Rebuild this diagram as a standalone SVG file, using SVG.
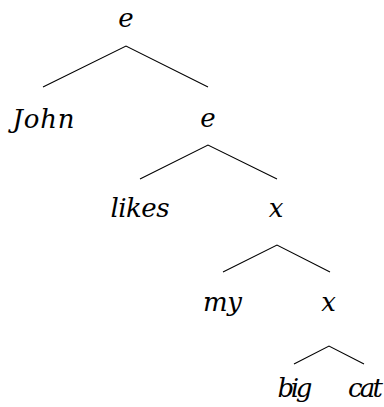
<svg xmlns="http://www.w3.org/2000/svg" width="384" height="407" viewBox="0 0 384 407">
<style>
text{font-family:"DejaVu Serif","Liberation Serif","Times New Roman",serif;font-style:italic;font-size:26px;fill:#000;text-anchor:middle}
.edge{stroke:#000;stroke-width:1.1;fill:none}
</style>
<rect width="384" height="407" fill="#fff"/>
<g id="connectors">
<path class="edge" d="M43,87 L126,46 L208,87"/>
<path class="edge" d="M140,179 L208,145 L277,179"/>
<path class="edge" d="M223,272 L277,245 L330,272"/>
<path class="edge" d="M294,364 L329,346 L364,364"/>
</g>
<g id="n-root"><text x="126" y="27">e</text></g>
<g id="n-john"><text x="43.5" y="128" textLength="62" lengthAdjust="spacing">John</text></g>
<g id="n-e2"><text x="208" y="127">e</text></g>
<g id="n-likes"><text x="140" y="217" textLength="59" lengthAdjust="spacing">likes</text></g>
<g id="n-x1"><text x="276" y="217">x</text></g>
<g id="n-my"><text x="222.5" y="311" textLength="39" lengthAdjust="spacing">my</text></g>
<g id="n-x2"><text x="328.5" y="311">x</text></g>
<g id="n-big"><text x="295" y="397" textLength="35" lengthAdjust="spacing">big</text></g>
<g id="n-cat"><text x="365.5" y="397" textLength="35" lengthAdjust="spacing">cat</text></g>
</svg>
